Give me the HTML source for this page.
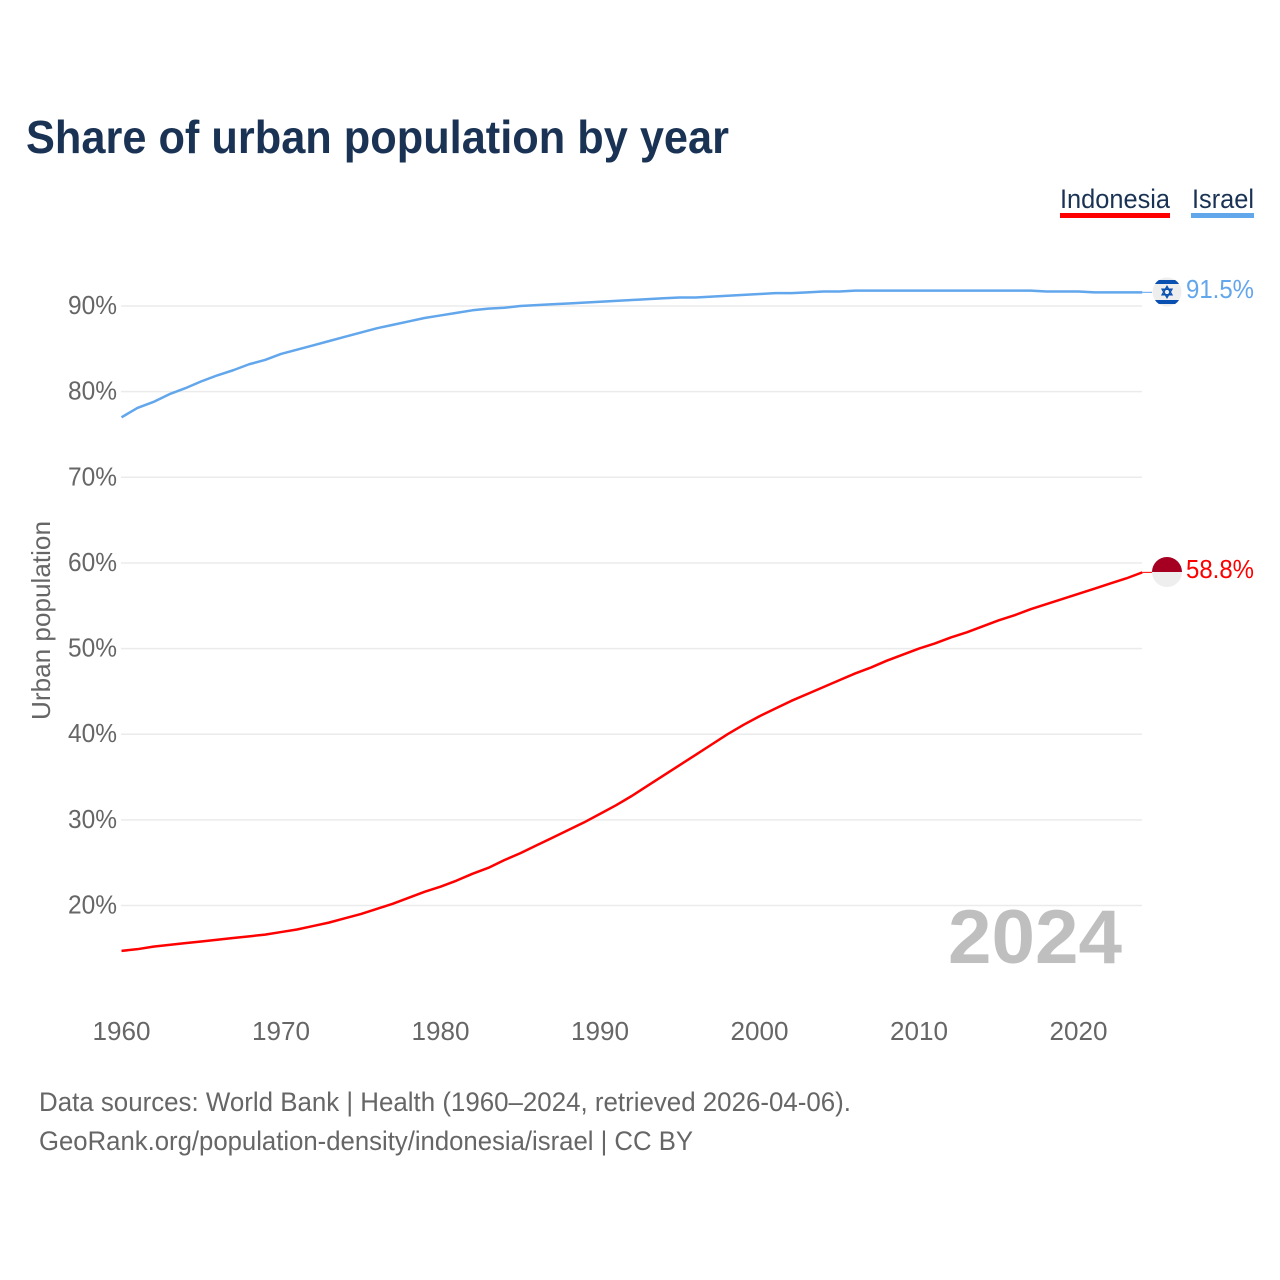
<!DOCTYPE html>
<html lang="en">
<head>
<meta charset="utf-8">
<title>Share of urban population by year</title>
<style>
html,body{margin:0;padding:0;background:#fff;width:1280px;height:1280px;overflow:hidden}
svg{display:block}
text{font-family:"Liberation Sans",sans-serif}
</style>
</head>
<body>
<svg id="chart" xmlns="http://www.w3.org/2000/svg" width="1280" height="1280" viewBox="0 0 1280 1280">
  <rect width="1280" height="1280" fill="#fff"/>
  <text x="26" y="153" font-size="46" font-weight="700" fill="#1a3354" textLength="703" lengthAdjust="spacingAndGlyphs">Share of urban population by year</text>

  <g>
    <text x="1060" y="208" font-size="27" fill="#1a3354" textLength="110" lengthAdjust="spacingAndGlyphs">Indonesia</text>
    <rect x="1060" y="213" width="110" height="5" fill="#ff0000"/>
  </g>
  <g>
    <text x="1192" y="208" font-size="27" fill="#1a3354" textLength="62" lengthAdjust="spacingAndGlyphs">Israel</text>
    <rect x="1191" y="213" width="63" height="5" fill="#62a6ec"/>
  </g>

  <g id="grid"></g>
  <g id="yticks"></g>
  <g id="xticks"></g>
  <text transform="translate(50,720) rotate(-90)" font-size="26" fill="#666" textLength="199" lengthAdjust="spacingAndGlyphs">Urban population</text>
  <text x="948" y="963" font-size="76" font-weight="700" fill="#bfbfbf" textLength="174" lengthAdjust="spacingAndGlyphs">2024</text>
  <g id="series"></g>

  <defs>
    <clipPath id="flag-clip-il"><circle cx="1167" cy="292" r="14.5"/></clipPath>
    <clipPath id="flag-clip-id"><circle cx="1167" cy="572" r="15"/></clipPath>
  </defs>

  <g clip-path="url(#flag-clip-il)">
    <rect x="1152" y="277" width="30" height="30" fill="#eeeeee"/>
    <rect x="1152" y="280" width="30" height="4" fill="#0a50b0"/>
    <rect x="1152" y="300" width="30" height="4" fill="#0a50b0"/>
    <polygon points="1167,286.5 1171.8,294.8 1162.2,294.8" fill="none" stroke="#0a50b0" stroke-width="1.5"/>
    <polygon points="1167,297.5 1171.8,289.2 1162.2,289.2" fill="none" stroke="#0a50b0" stroke-width="1.5"/>
  </g>
  <text x="1186" y="298" font-size="26" fill="#62a6ec" textLength="68" lengthAdjust="spacingAndGlyphs">91.5%</text>

  <g clip-path="url(#flag-clip-id)">
    <rect x="1152" y="557" width="30" height="15" fill="#a50022"/>
    <rect x="1152" y="572" width="30" height="15" fill="#eeeeee"/>
  </g>
  <text x="1186" y="578" font-size="26" fill="#ff0000" textLength="68" lengthAdjust="spacingAndGlyphs">58.8%</text>

  <text x="39" y="1111" font-size="27" fill="#666" textLength="812" lengthAdjust="spacingAndGlyphs">Data sources: World Bank | Health (1960–2024, retrieved 2026-04-06).</text>
  <text x="39" y="1150" font-size="27" fill="#666" textLength="654" lengthAdjust="spacingAndGlyphs">GeoRank.org/population-density/indonesia/israel | CC BY</text>
</svg>
<script>
const startYear = 1960;
const yTickValues = [20, 30, 40, 50, 60, 70, 80, 90];
const yTickLabels = ["20%", "30%", "40%", "50%", "60%", "70%", "80%", "90%"];
const xTickValues = [1960, 1970, 1980, 1990, 2000, 2010, 2020];
const xTickLabels = ["1960", "1970", "1980", "1990", "2000", "2010", "2020"];
const indonesiaValues = [14.7,14.9,15.2,15.4,15.6,15.8,16.0,16.2,16.4,16.6,16.9,17.2,17.6,18.0,18.5,19.0,19.6,20.2,20.9,21.6,22.2,22.9,23.7,24.4,25.3,26.1,27.0,27.9,28.8,29.7,30.7,31.7,32.8,34.0,35.2,36.4,37.6,38.8,40.0,41.1,42.1,43.0,43.9,44.7,45.5,46.3,47.1,47.8,48.6,49.3,50.0,50.6,51.3,51.9,52.6,53.3,53.9,54.6,55.2,55.8,56.4,57.0,57.6,58.2,58.9];
const israelValues = [77.0,78.1,78.8,79.7,80.4,81.2,81.9,82.5,83.2,83.7,84.4,84.9,85.4,85.9,86.4,86.9,87.4,87.8,88.2,88.6,88.9,89.2,89.5,89.7,89.8,90.0,90.1,90.2,90.3,90.4,90.5,90.6,90.7,90.8,90.9,91.0,91.0,91.1,91.2,91.3,91.4,91.5,91.5,91.6,91.7,91.7,91.8,91.8,91.8,91.8,91.8,91.8,91.8,91.8,91.8,91.8,91.8,91.8,91.7,91.7,91.7,91.6,91.6,91.6,91.6];

const NS = "http://www.w3.org/2000/svg";
function xScale(year) { return 121.5 + (year - 1960) * 15.95; }
function yScale(v) { return 905.5 - (v - 20) * 8.564; }
function make(tag, attrs, parent) {
  const el = document.createElementNS(NS, tag);
  for (const k in attrs) el.setAttribute(k, attrs[k]);
  parent.appendChild(el);
  return el;
}

const grid = document.getElementById("grid");
const yticks = document.getElementById("yticks");
const xticks = document.getElementById("xticks");
const series = document.getElementById("series");

yTickValues.forEach(function (v, i) {
  const line = make("line", {x1: 121, x2: 1142, y1: yScale(v), y2: yScale(v), stroke: "#ebebeb", "stroke-width": 1.5}, grid);
  
  
  const label = make("text", {x: 117, y: yScale(v) + 8, "text-anchor": "end", "font-size": 26, fill: "#666", textLength: 49, lengthAdjust: "spacingAndGlyphs"}, yticks);
  
  
  label.textContent = yTickLabels[i];
});

xTickValues.forEach(function (yr, i) {
  const label = make("text", {x: xScale(yr), y: 1040, "text-anchor": "middle", "font-size": 26, fill: "#666", textLength: 58, lengthAdjust: "spacingAndGlyphs"}, xticks);
  
  
  label.textContent = xTickLabels[i];
});

function pathFor(values) {
  return values.map(function (v, i) {
    return (i ? "L" : "M") + xScale(startYear + i).toFixed(2) + " " + yScale(v).toFixed(2);
  }).join(" ");
}

const indonesiaLine = make("path", {d: pathFor(indonesiaValues), fill: "none", stroke: "#ff0000", "stroke-width": 2.5, "stroke-linejoin": "round"}, series);



const israelLine = make("path", {d: pathFor(israelValues), fill: "none", stroke: "#62a6ec", "stroke-width": 2.5, "stroke-linejoin": "round"}, series);



const lastIdx = indonesiaValues.length - 1;
const indonesiaLead = make("line", {x1: xScale(startYear + lastIdx), x2: 1152, y1: yScale(indonesiaValues[lastIdx]), y2: yScale(indonesiaValues[lastIdx]), stroke: "#ff0000", "stroke-width": 1}, series);



const israelLead = make("line", {x1: xScale(startYear + lastIdx), x2: 1152, y1: yScale(israelValues[lastIdx]), y2: yScale(israelValues[lastIdx]), stroke: "#62a6ec", "stroke-width": 1}, series);


</script>
</body>
</html>
